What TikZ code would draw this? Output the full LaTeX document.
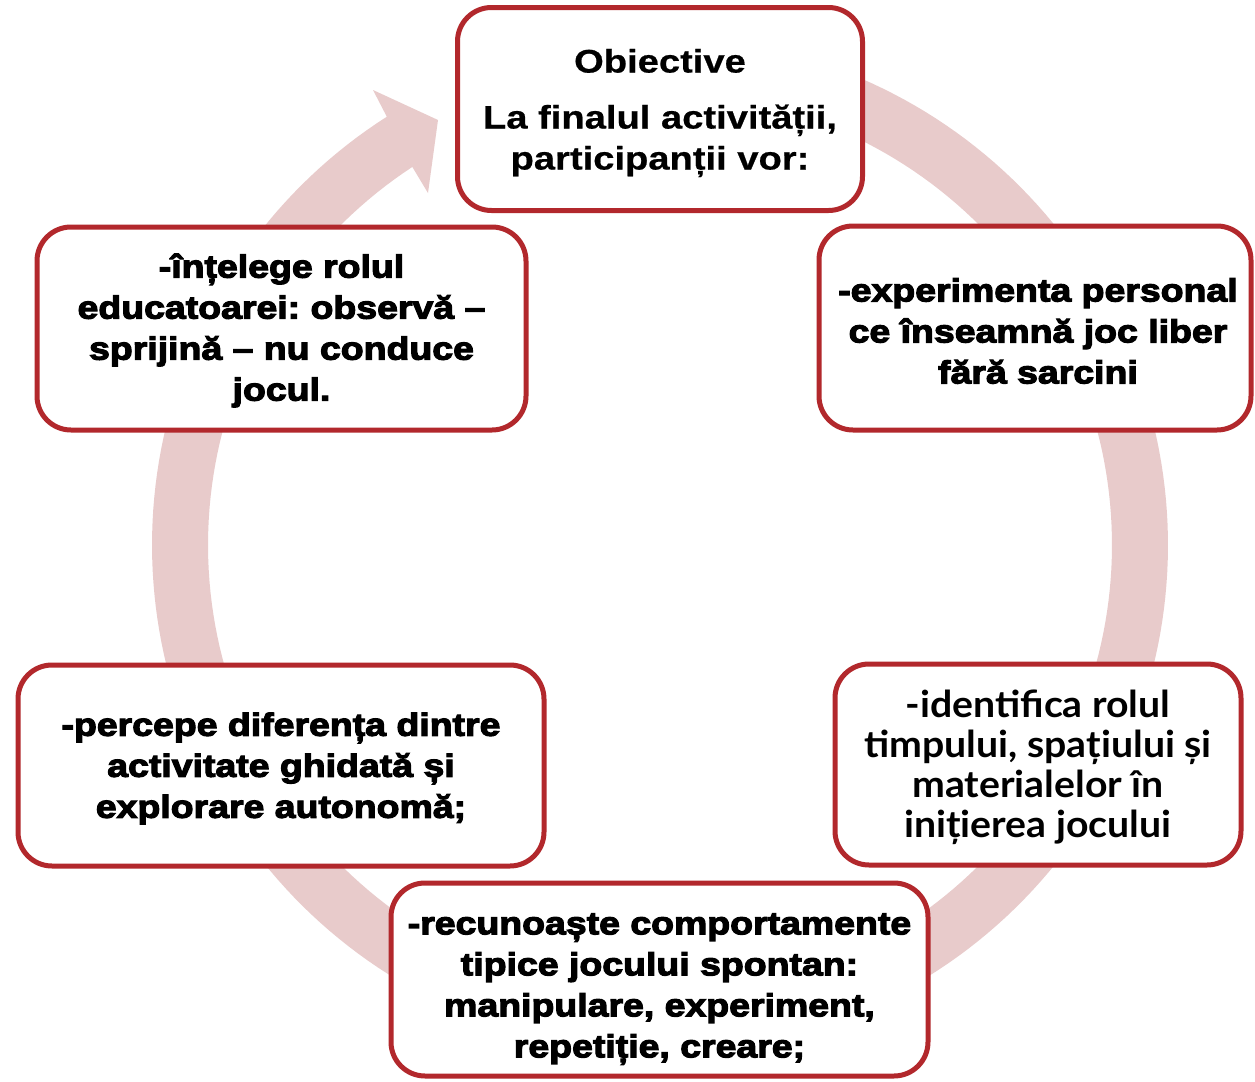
\documentclass[tikz,border=0pt]{standalone}
\usepackage{fontspec}
\usetikzlibrary{calc}
\frenchspacing
\newfontfamily\hdfont{Liberation Sans Bold}[FakeStretch=1.17,FakeBold=0.6]
\newfontfamily\blkfont{Liberation Sans Bold}[FakeBold=3.6,FakeStretch=1.17]
\newfontfamily\gilfont{Lato}[FakeStretch=1.06]
\definecolor{bord}{HTML}{B2282C}
\definecolor{ringc}{HTML}{E8CBCB}
\tikzset{
  box/.style={draw=bord, line width=2.5pt, fill=white, rounded corners=17pt,
    align=center, inner sep=0pt},
  blk/.style={align=center, font=\blkfont\fontsize{16}{20.5}\selectfont},
}
\begin{document}
\begin{tikzpicture}[x=0.5pt,y=-0.5pt]
\useasboundingbox (0,0) rectangle (1255,1082);
\fill[white] (0,0) rectangle (1255,1082);
% ring with arrow head
\coordinate (ctr) at (660,545);
\fill[ringc] plot[domain=-90:237.47, samples=240] ({660+508*cos(\x)},{545+508*sin(\x)})
  -- (373,90) -- (438,120) -- (428,193)
  -- plot[domain=236.77:-90, samples=240] ({660+452*cos(\x)},{545+452*sin(\x)}) -- cycle;
% boxes
\node[box, minimum width=202.5pt, minimum height=101.5pt] (obj) at (660,109) {};
\node[align=center, font=\hdfont\fontsize{16.3}{20.5}\selectfont] (objt) at ([yshift=-2pt]obj.center)
  {Obiective\\[7.5pt]La finalul activității,\\participanții vor:};
\node[box, minimum width=216pt, minimum height=102pt] (exp) at (1035,328) {};
\node[blk] (expt) at ([xshift=1.5pt,yshift=-1.5pt]exp.center)
  {-experimenta personal\\ce înseamnă joc liber\\fără sarcini};
\node[box, minimum width=244.5pt, minimum height=101.5pt] (int) at (281.5,328.5) {};
\node[blk] (intt) at ([yshift=-1pt]int.center)
  {-înțelege rolul\\educatoarei: observă –\\sprijină – nu conduce\\jocul.};
\node[box, minimum width=263pt, minimum height=100.5pt] (per) at (281,765.5) {};
\node[blk] (pert) at ([yshift=-1.5pt]per.center)
  {-percepe diferența dintre\\activitate ghidată și\\explorare autonomă;};
\node[box, minimum width=203pt, minimum height=100.5pt] (ide) at (1038,764.5) {};
\node[align=center, font=\gilfont\bfseries\fontsize{18.5}{20}\selectfont] (idet) at ([yshift=-1.5pt]ide.center)
  {-identifica rolul\\timpului, spațiului și\\materialelor în\\inițierea jocului};
\node[box, minimum width=268.5pt, minimum height=96.5pt] (rec) at (659.5,979.5) {};
\node[blk] (rect) at ([yshift=-4.8pt]rec.center)
  {-recunoaște comportamente\\tipice jocului spontan:\\manipulare, experiment,\\repetiție, creare;};
\end{tikzpicture}
\end{document}
